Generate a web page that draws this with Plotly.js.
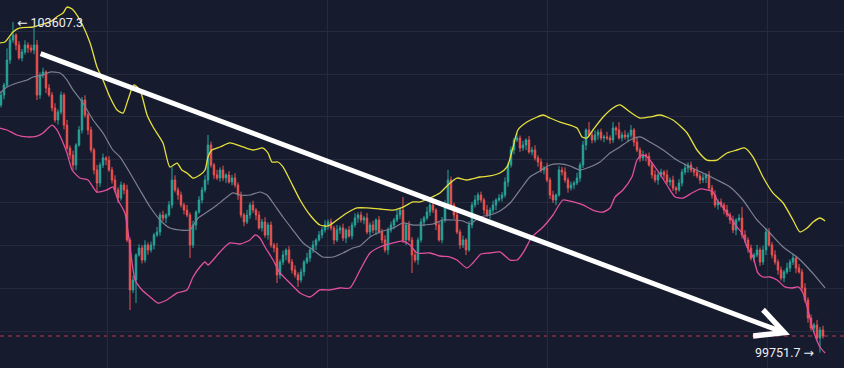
<!DOCTYPE html>
<html>
<head>
<meta charset="utf-8">
<script src="https://cdn.plot.ly/plotly-3.0.1.min.js"></script>
<style>html,body{margin:0;padding:0;background:#171b2e;}#chart{width:844px;height:368px;}</style>
</head>
<body>
<div id="chart"></div>
<script>
// ---- Data (BTC price candles) ----
const openPrice = [
102640,102756,102873,103164,103398,103456,103339,103188,103258,103339,
103304,103281,103339,102756,102990,103024,102838,102756,102605,102465,
102558,102756,102406,102138,102057,101940,102173,102348,102698,102523,
102348,102115,101882,101730,101940,102022,101998,101882,101765,101649,
101555,101707,101649,101066,100483,100599,100891,100972,100832,101007,
100949,101007,101124,101159,101357,101322,101357,101474,101765,101649,
101590,101474,101415,101357,101007,101241,101392,101532,101649,101765,
102173,101940,101824,101789,101882,101789,101824,101742,101789,101707,
101590,101357,101276,101357,101474,101415,101357,101206,101276,101124,
101241,101007,100972,100658,100809,100891,100949,100809,100716,100658,
100599,100693,100809,100856,100949,101007,101066,101124,101182,101241,
101276,101206,101066,101182,101206,101089,101182,101112,101241,101322,
101357,101299,101322,101159,101241,101182,101299,101159,101066,100949,
101182,101241,101299,101357,101415,101066,101241,101066,100891,100832,
101066,101276,101322,101392,101474,101415,101241,101066,101299,101474,
101765,101474,101357,101159,101007,101066,100949,101241,101474,101532,
101590,101532,101415,101357,101415,101474,101532,101555,101590,101742,
101940,102115,102232,102255,102138,102173,102232,102092,102115,102022,
101975,101882,101905,101765,101590,101532,101590,101882,101858,101765,
101672,101707,101730,101789,101940,102173,102348,102290,102232,102290,
102325,102255,102267,102255,102232,102372,102348,102255,102290,102267,
102290,102348,102208,102115,102022,102057,102040,101940,101824,101765,
101824,101858,101824,101742,101765,101672,101649,101730,101858,101905,
101940,101882,101858,101812,101765,101789,101824,101672,101590,101474,
101509,101474,101415,101357,101299,101182,101299,101322,101124,101066,
100972,100856,100891,100949,100809,100949,101159,101007,100891,100809,
100716,100622,100693,100739,100809,100856,100739,100693,100506,100366,
100156,100039,100074,99923,100016];

const highPrice = [
102796,102898,103300,103428,103607.3,103476,103384,103293,103394,103369,
103344,103538,103399,103020,103074,103044,102883,102791,102660,102588,
102796,102781,102466,102168,102107,102193,102393,102733,102753,102553,
102388,102140,101942,101970,102072,102042,102043,101917,101820,101679,
101747,101732,101709,101096,100649,100911,101017,101007,101062,101037,
101047,101149,101219,101387,101407,101377,101519,101917,101820,101679,
101630,101499,101475,101387,101291,101412,101577,101684,101820,102290,
102213,101965,101884,101912,101932,101844,101869,101824,101844,101737,
101630,101382,101417,101504,101524,101435,101402,101311,101331,101271,
101281,101032,101032,100839,100941,100969,100994,100844,100771,100688,
100733,100834,100916,100979,101057,101086,101169,101217,101296,101306,
101316,101231,101242,101236,101256,101202,101227,101276,101377,101387,
101397,101347,101382,101271,101291,101319,101344,101194,101121,101212,
101281,101324,101417,101445,101567,101261,101286,101101,100946,101096,
101316,101347,101452,101504,101524,101435,101286,101334,101529,101882,
101805,101499,101417,101189,101116,101086,101286,101509,101587,101620,
101630,101557,101475,101445,101524,101552,101600,101625,101797,101970,
102155,102257,102313,102285,102223,102252,102277,102150,102170,102052,
102015,101930,101965,101795,101640,101610,101927,101917,101913,101795,
101747,101755,101849,101970,102223,102368,102441,102325,102345,102355,
102365,102292,102327,102285,102441,102392,102441,102325,102345,102320,
102406,102373,102268,102145,102107,102077,102085,101975,101879,101854,
101898,101883,101884,101795,101815,101692,101775,101893,101960,101970,
101980,101907,101918,101842,101839,101844,101869,101707,101645,101539,
101549,101499,101475,101387,101349,101319,101367,101450,101179,101096,
101012,100916,101009,100979,100999,101205,101204,101042,100946,100839,
100756,100718,100799,100839,100906,100876,100784,100728,100561,100396,
100196,100099,100134,100051,100066];

const lowPrice = [
102610,102706,102848,103119,103363,103279,103168,103148,103228,103249,
103251,103231,102698,102711,102955,102778,102736,102565,102435,102410,
102528,102356,102113,102012,101880,101880,102153,102308,102493,102293,
102085,101832,101614,101685,101905,101938,101862,101725,101619,101500,
101525,101599,101041,100249,100448,100330,100871,100792,100802,100894,
100919,100957,101099,101114,101287,101262,101337,101434,101619,101535,
101444,101365,101332,100856,100972,101181,101372,101492,101619,101710,
101910,101774,101764,101744,101754,101729,101722,101702,101677,101535,
101327,101226,101251,101312,101380,101297,101186,101166,101094,101069,
100977,100922,100564,100613,100774,100831,100789,100676,100628,100518,
100569,100643,100784,100811,100914,100947,101046,101084,101152,101186,
101176,101016,101041,101137,101054,101029,101092,101072,101211,101267,
101269,101249,101134,101114,101147,101122,101139,101026,100919,100894,
101152,101191,101274,101312,101031,101006,101046,100681,100802,100777,
101036,101226,101297,101347,101380,101181,101046,101026,101269,101419,
101444,101307,101134,100962,100972,100890,100929,101201,101444,101477,
101502,101365,101332,101312,101380,101414,101512,101515,101560,101687,
101910,102065,102207,102093,102103,102113,102072,102052,101992,101920,
101852,101832,101740,101545,101497,101472,101570,101818,101735,101617,
101642,101657,101705,101744,101905,102113,102270,102192,102202,102235,
102225,102205,102230,102187,102197,102288,102235,102215,102237,102212,
102260,102158,102090,101977,101987,101980,101920,101784,101735,101710,
101794,101774,101717,101697,101637,101600,101629,101690,101828,101850,
101852,101808,101787,101720,101730,101729,101652,101550,101444,101419,
101444,101365,101332,101254,101147,101122,101279,101084,101036,100917,
100826,100806,100866,100764,100774,100889,100987,100851,100779,100661,
100592,100572,100668,100694,100774,100679,100673,100466,100336,100101,
100009,99989,99898,99751.7,99916];

const closePrice = [
102756,102873,103164,103398,103456,103339,103188,103258,103339,103304,
103281,103339,102756,102990,103024,102838,102756,102605,102465,102558,
102756,102406,102138,102057,101940,102173,102348,102698,102523,102348,
102115,101882,101730,101940,102022,101998,101882,101765,101649,101555,
101707,101649,101066,100483,100599,100891,100972,100832,101007,100949,
101007,101124,101159,101357,101322,101357,101474,101765,101649,101590,
101474,101415,101357,101007,101241,101392,101532,101649,101765,102173,
101940,101824,101789,101882,101789,101824,101742,101789,101707,101590,
101357,101276,101357,101474,101415,101357,101206,101276,101124,101241,
101007,100972,100658,100809,100891,100949,100809,100716,100658,100599,
100693,100809,100856,100949,101007,101066,101124,101182,101241,101276,
101206,101066,101182,101206,101089,101182,101112,101241,101322,101357,
101299,101322,101159,101241,101182,101299,101159,101066,100949,101182,
101241,101299,101357,101415,101066,101241,101066,100891,100832,101066,
101276,101322,101392,101474,101415,101241,101066,101299,101474,101765,
101474,101357,101159,101007,101066,100949,101241,101474,101532,101590,
101532,101415,101357,101415,101474,101532,101555,101590,101742,101940,
102115,102232,102255,102138,102173,102232,102092,102115,102022,101975,
101882,101905,101765,101590,101532,101590,101882,101858,101765,101672,
101707,101730,101789,101940,102173,102348,102290,102232,102290,102325,
102255,102267,102255,102232,102372,102348,102255,102290,102267,102290,
102348,102208,102115,102022,102057,102040,101940,101824,101765,101824,
101858,101824,101742,101765,101672,101649,101730,101858,101905,101940,
101882,101858,101812,101765,101789,101824,101672,101590,101474,101509,
101474,101415,101357,101299,101182,101299,101322,101124,101066,100972,
100856,100891,100949,100809,100949,101159,101007,100891,100809,100716,
100622,100693,100739,100809,100856,100739,100693,100506,100366,100156,
100039,100074,99923,100016,99946];

// Bollinger bands, x in candle-index units
const upperIdx = [-0.3,1.3,4,6.3,10.7,14,16.3,19,20.7,22,23.7,26.3,29.7,32,34,36.3,38.7,40.7,42.3,44.3,46.3,48.7,50.7,54,56.3,58.7,60.3,62,64,66.3,68,69,70.3,73,76.3,80.7,84,87.3,89,90.3,92.3,94,96.3,99.7,103,106.3,109,112,115.3,118.7,122,126.3,130.7,134,137.3,139.7,143,146.3,149.7,152,155.3,159.7,163,166.3,168.7,170.7,172.3,175.3,178.7,180.7,183,186.3,189.7,192,193.7,195.3,197.3,200.7,204,206.3,209.7,213,216.3,219.7,224,228.7,232,235.3,238.7,242,245.3,248,250.7,254,257.3,260.7,264,266.3,268.7,270.7,273,274.7];
const upperBand = [103363,103374,103491,103538,103549,103584,103607,103677,103712,103782,103759,103631,103363,103083,102931,102733,102581,102546,102698,102873,102815,102523,102383,102197,101917,101963,101882,101847,101788,101823,101882,102033,102115,102150,102197,102150,102115,102138,102080,101975,101975,101917,101765,101532,101357,101240,101229,101299,101380,101439,101439,101427,101415,101450,101509,101509,101555,101614,101730,101788,101765,101800,101812,101847,101917,102150,102348,102441,102500,102523,102488,102441,102406,102371,102267,102255,102348,102500,102605,102640,102558,102488,102500,102523,102465,102313,102115,101998,101998,102080,102115,102138,102033,101800,101614,101497,101299,101159,101205,101275,101322,101287];

const middleIdx = [-0.3,2,5.3,8.7,10.7,14,16.3,19.7,22,24,27.3,30.7,34,37.3,39.7,43,46.3,49.7,53,56.3,59.7,63,65.7,68.7,72,75.3,77.3,79.7,83,86.3,88.7,90.7,94,97.3,100.7,104,107.3,110.7,114,117.3,119.7,123,126.3,130.7,134,137.3,140.7,144,147.3,150.7,154,156.3,159.7,163,166.3,169.7,173,176.3,179.7,183,186.3,189.7,193,196.3,199.7,203,206.3,209.7,213,216.3,220.7,225.3,229.7,234,238.7,243,247.3,252,256.3,260.7,265.3,268.7,272,274.7];
const middleBand = [102780,102850,102896,102931,102966,102990,103024,103013,102931,102815,102663,102465,102313,102115,102033,101847,101649,101450,101299,101205,101182,101182,101322,101392,101474,101567,101614,101590,101590,101625,101590,101497,101334,101182,101031,100949,100867,100867,100914,100972,100996,101101,101159,101205,101264,101240,101240,101252,101299,101299,101287,101252,101334,101357,101404,101497,101649,101800,101870,101940,101952,101928,101882,101917,101975,102080,102150,102232,102267,102208,102115,101998,101917,101847,101765,101684,101532,101299,101147,100984,100867,100751,100622,100506];

const lowerIdx = [-0.3,2,5.3,8.7,12,14,15.7,17,18.7,20.3,22,23.7,26.3,29,32,35.3,37.3,39,41.3,43,44.7,47,49.7,52.3,55.3,58.7,62,64,66.3,68,69,70.7,73,76.3,79.7,83,84.7,86.3,88,90.7,93,96.3,99.7,103,106.3,109.7,113,116.3,119.7,123,126.3,130.7,134,136.3,138.7,143,146.3,149.7,152,155.3,157.3,160,163,166.3,169.7,172,174,177,180.7,184,187.3,190.7,194,197.3,200.7,203,204.7,207.3,210.3,212,213.7,215.7,218.7,222,224.7,227.3,230.3,233,235.3,237.3,238.7,240,243,245.3,247,248.7,250.7,252.3,254,256.3,258.7,261.3,263.7,265.7,267.3,269,270.7,273,274.7];
const lowerBand = [102371,102348,102290,102267,102278,102313,102371,102406,102348,102232,102080,101882,101788,101765,101625,101649,101684,101532,101380,100984,100599,100483,100401,100331,100366,100448,100483,100634,100751,100809,100774,100832,100926,101031,101019,101066,101124,101089,100984,100832,100681,100564,100448,100401,100483,100483,100506,100506,100716,100914,100984,101031,101054,101007,100914,100914,100879,100867,100832,100739,100797,100902,100914,100926,100832,100832,100914,101101,101217,101357,101532,101509,101474,101415,101392,101439,101567,101649,101800,101998,102057,102022,101882,101707,101567,101555,101614,101660,101649,101625,101532,101474,101334,101217,101147,100984,100867,100681,100634,100634,100599,100518,100506,100518,100448,100249,100016,99818,99748];

// Trend arrow (time index, price)
const trendTime = [12.7, 263];
const trendPrice = [103246, 99960];

const maxLabel = '← 103607.3';
const minLabel = '99751.7 →';
const maxIndex = 4, maxValue = 103607.3;
const minIndex = 273, minValue = 99751.7;

// ---- Chart ----
const bg = '#171b2e';
const grid = '#252a3d';
const idx = closePrice.map((_, i) => i);
const lastClose = closePrice[closePrice.length - 1];

const traces = [
  {
    type: 'candlestick', x: idx, open: openPrice, high: highPrice, low: lowPrice, close: closePrice,
    increasing: {line: {color: '#26a69a', width: 1}, fillcolor: '#26a69a'},
    decreasing: {line: {color: '#ef5350', width: 1}, fillcolor: '#ef5350'},
    whiskerwidth: 0, hoverinfo: 'skip'
  },
  {type: 'scatter', mode: 'lines', x: middleIdx, y: middleBand, line: {color: '#7d8093', width: 1.2, shape: 'spline', smoothing: 0.6}, hoverinfo: 'skip'},
  {type: 'scatter', mode: 'lines', x: upperIdx, y: upperBand, line: {color: '#e6e03c', width: 1.3, shape: 'spline', smoothing: 0.6}, hoverinfo: 'skip'},
  {type: 'scatter', mode: 'lines', x: lowerIdx, y: lowerBand, line: {color: '#e0509f', width: 1.3, shape: 'spline', smoothing: 0.6}, hoverinfo: 'skip'}
];

const layout = {
  width: 844, height: 368,
  margin: {l: 0, r: 0, t: 0, b: 0, pad: 0},
  paper_bgcolor: bg, plot_bgcolor: bg,
  showlegend: false,
  xaxis: {
    range: [-0.3333, 281.0], showgrid: true, gridcolor: grid, gridwidth: 1,
    tick0: 35.333, dtick: 73.333, showticklabels: false, zeroline: false,
    showline: false, ticks: '', rangeslider: {visible: false}, fixedrange: true
  },
  yaxis: {
    range: [99573, 103864], showgrid: true, gridcolor: grid, gridwidth: 1,
    tick0: 0, dtick: 500, showticklabels: false, zeroline: false,
    showline: false, ticks: '', fixedrange: true
  },
  shapes: [{
    type: 'line', xref: 'paper', x0: 0, x1: 1, yref: 'y', y0: lastClose, y1: lastClose,
    line: {color: 'rgba(242,70,90,0.75)', width: 1, dash: '4px,4px'}, layer: 'below'
  }],
  annotations: [
    {
      x: trendTime[1], y: trendPrice[1], ax: trendTime[0], ay: trendPrice[0],
      xref: 'x', yref: 'y', axref: 'x', ayref: 'y', text: '',
      showarrow: true, arrowhead: 5, arrowsize: 1.1, arrowwidth: 5, arrowcolor: '#ffffff', standoff: 0, startstandoff: 0
    },
    {
      x: maxIndex, y: maxValue, xref: 'x', yref: 'y', text: maxLabel, showarrow: false,
      xanchor: 'left', yanchor: 'middle', xshift: 2,
      font: {family: 'Roboto, "DejaVu Sans", sans-serif', size: 12.5, color: '#eceef3'}
    },
    {
      x: minIndex, y: minValue, xref: 'x', yref: 'y', text: minLabel, showarrow: false,
      xanchor: 'right', yanchor: 'middle', xshift: -4,
      font: {family: 'Roboto, "DejaVu Sans", sans-serif', size: 12.5, color: '#eceef3'}
    }
  ]
};

Plotly.newPlot('chart', traces, layout, {staticPlot: true, displayModeBar: false});
</script>
</body>
</html>
